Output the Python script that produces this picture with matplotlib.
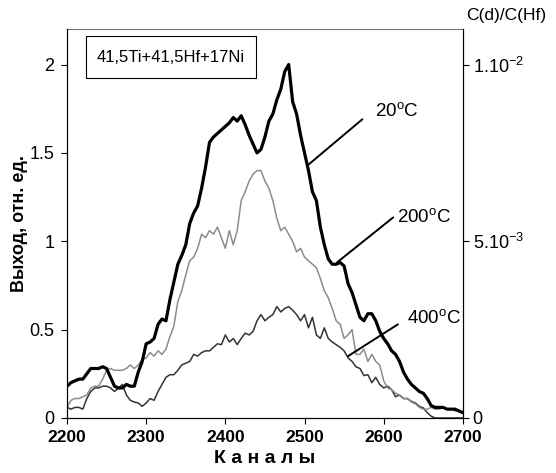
import matplotlib
matplotlib.use("Agg")
import matplotlib.pyplot as plt
from matplotlib.patches import Rectangle

plt.rcParams['font.family'] = ['Liberation Sans', 'DejaVu Sans']
plt.rcParams['mathtext.fontset'] = 'custom'
plt.rcParams['mathtext.rm'] = 'Liberation Sans'
plt.rcParams['mathtext.it'] = 'Liberation Sans:italic'
plt.rcParams['mathtext.bf'] = 'Liberation Sans:bold'

# ---- data ----
ch = list(range(2200, 2701, 5))

y20 = [0.18, 0.20, 0.21, 0.22, 0.22, 0.25, 0.28, 0.28, 0.28, 0.29,
       0.28, 0.23, 0.18, 0.17, 0.17, 0.19, 0.18, 0.18, 0.26, 0.32,
       0.42, 0.43, 0.45, 0.53, 0.56, 0.55, 0.67, 0.77, 0.87, 0.92,
       0.98, 1.10, 1.16, 1.20, 1.30, 1.42, 1.56, 1.59, 1.61, 1.63,
       1.65, 1.67, 1.70, 1.68, 1.71, 1.66, 1.60, 1.55, 1.50, 1.52,
       1.59, 1.68, 1.72, 1.80, 1.86, 1.96, 2.00, 1.79, 1.72, 1.60,
       1.50, 1.40, 1.28, 1.23, 1.08, 0.98, 0.90, 0.87, 0.87, 0.88,
       0.86, 0.76, 0.71, 0.64, 0.57, 0.55, 0.59, 0.59, 0.55, 0.49,
       0.45, 0.42, 0.38, 0.36, 0.32, 0.26, 0.22, 0.19, 0.17, 0.15,
       0.14, 0.11, 0.07, 0.06, 0.06, 0.06, 0.05, 0.05, 0.05, 0.04,
       0.03]

y200 = [0.06, 0.10, 0.11, 0.11, 0.12, 0.13, 0.17, 0.18, 0.18, 0.22,
        0.27, 0.28, 0.27, 0.27, 0.27, 0.28, 0.30, 0.28, 0.30, 0.33,
        0.34, 0.37, 0.35, 0.38, 0.36, 0.39, 0.46, 0.52, 0.66, 0.72,
        0.81, 0.89, 0.91, 0.96, 1.04, 1.02, 1.06, 1.04, 1.08, 1.02,
        0.96, 1.06, 0.98, 1.06, 1.23, 1.28, 1.34, 1.38, 1.40, 1.40,
        1.34, 1.30, 1.23, 1.13, 1.06, 1.08, 1.04, 1.00, 0.94, 0.96,
        0.91, 0.89, 0.87, 0.85, 0.79, 0.72, 0.68, 0.62, 0.55, 0.53,
        0.45, 0.47, 0.50, 0.36, 0.36, 0.39, 0.32, 0.36, 0.32, 0.30,
        0.21, 0.17, 0.16, 0.14, 0.13, 0.11, 0.11, 0.09, 0.08, 0.06,
        0.05, 0.05, 0.06, 0.05, 0.05, 0.06, 0.05, 0.05, 0.04, 0.04,
        0.03]

y400 = [0.06, 0.05, 0.06, 0.06, 0.05, 0.11, 0.15, 0.17, 0.17, 0.18,
        0.18, 0.17, 0.15, 0.17, 0.19, 0.13, 0.10, 0.09, 0.085, 0.066,
        0.085, 0.11, 0.10, 0.15, 0.19, 0.23, 0.245, 0.245, 0.27, 0.30,
        0.31, 0.32, 0.36, 0.35, 0.37, 0.38, 0.38, 0.40, 0.42, 0.415,
        0.47, 0.43, 0.45, 0.415, 0.45, 0.48, 0.47, 0.49, 0.55, 0.585,
        0.55, 0.57, 0.585, 0.63, 0.60, 0.62, 0.63, 0.61, 0.585, 0.55,
        0.585, 0.51, 0.57, 0.47, 0.45, 0.51, 0.45, 0.43, 0.415, 0.40,
        0.38, 0.34, 0.32, 0.29, 0.28, 0.24, 0.245, 0.20, 0.23, 0.19,
        0.17, 0.18, 0.16, 0.12, 0.13, 0.11, 0.11, 0.094, 0.085, 0.066,
        0.057, 0.03, 0.01, 0.0, 0.0, 0.0, 0.0, 0.0, 0.0, 0.0,
        0.0]

xticks = [2200, 2300, 2400, 2500, 2600, 2700]
yticks = [0, 0.5, 1, 1.5, 2]
yticklabels = ['0', '0.5', '1', '1.5', '2']
rticks = [0, 0.005, 0.01]
rticklabels = ['0', r'5.10$^{-3}$', r'1.10$^{-2}$']
labels = [r'20$^{\rm o}$C', r'200$^{\rm o}$C', r'400$^{\rm o}$C']
box_text = '41,5Ti+41,5Hf+17Ni'

# ---- figure ----
fig = plt.figure(figsize=(5.56, 4.73), dpi=100)
ax = fig.add_axes([0.1205, 0.1163, 0.712, 0.822])

ax.plot(ch, y400, color='#333333', lw=1.1, zorder=2)
ax.plot(ch, y200, color='#8c8c8c', lw=1.1, zorder=3)
ax.plot(ch, y20, color='black', lw=2.3, zorder=4)

ax.set_xlim(2200, 2700)
ax.set_ylim(0, 2.2)
ax.set_xticks(xticks)
ax.set_xticklabels([str(t) for t in xticks], fontsize=12.5, fontweight='bold')
ax.set_yticks(yticks)
ax.set_yticklabels(yticklabels, fontsize=13)
ax.tick_params(direction='out', length=4, width=0.8, pad=5)
ax.set_xlabel('К а н а л ы', fontsize=14, fontweight='bold', labelpad=3)
ax.set_ylabel('Выход, отн. ед.', fontsize=13, fontweight='bold', labelpad=1)
for s in ax.spines.values():
    s.set_linewidth(0.8)
ax.spines['top'].set_color('#777777')

ax2 = ax.twinx()
ax2.set_ylim(0, 0.011)
ax2.set_yticks(rticks)
ax2.set_yticklabels(rticklabels, fontsize=13)
ax2.tick_params(direction='out', length=4, width=0.8, pad=3)
for s in ax2.spines.values():
    s.set_linewidth(0.8)
ax2.spines['top'].set_visible(False)
fig.text(0.838, 0.968, 'C(d)/C(Hf)', fontsize=12.5, ha='left', va='center')

# label box
ax.add_patch(Rectangle((0.048, 0.874), 0.429, 0.108, transform=ax.transAxes,
                       fill=False, edgecolor='black', lw=0.8, zorder=5))
ax.text(0.2625, 0.928, box_text, transform=ax.transAxes, ha='center',
        va='center', fontsize=12)

# curve labels with leader lines
ax.annotate('', xy=(2504, 1.43), xytext=(2573, 1.69),
            arrowprops=dict(arrowstyle='-', lw=1.4, color='black',
                            shrinkA=0, shrinkB=0))
ax.text(2617, 1.735, labels[0], fontsize=13.5, ha='center', va='center')
ax.annotate('', xy=(2541, 0.88), xytext=(2612, 1.135),
            arrowprops=dict(arrowstyle='-', lw=1.4, color='black',
                            shrinkA=0, shrinkB=0))
ax.text(2651, 1.14, labels[1], fontsize=13.5, ha='center', va='center')
ax.annotate('', xy=(2555, 0.35), xytext=(2618, 0.53),
            arrowprops=dict(arrowstyle='-', lw=1.4, color='black',
                            shrinkA=0, shrinkB=0))
ax.text(2664, 0.565, labels[2], fontsize=13.5, ha='center', va='center')

fig.savefig('out.png', dpi=100)
